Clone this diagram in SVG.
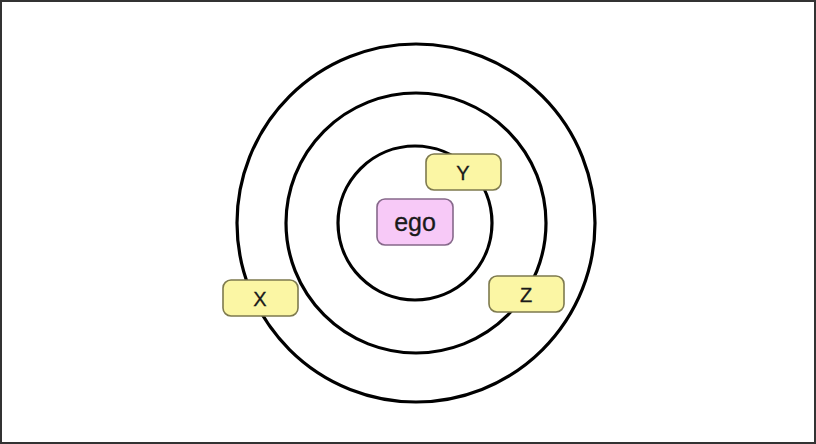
<svg xmlns="http://www.w3.org/2000/svg" width="816" height="444" viewBox="0 0 816 444">
<style>
.ring{fill:none;stroke:#000;stroke-width:3.2}
.yb{fill:#fbf6a4;stroke:#7e7a4e;stroke-width:1.6}
.pb{fill:#f7c9f7;stroke:#86688a;stroke-width:1.6}
.t{font-family:"Liberation Sans",Arial,sans-serif;text-anchor:middle;fill:#1a1a1a;stroke:#1a1a1a;stroke-width:0.3}
</style>
<rect x="1" y="1" width="814" height="442" fill="#fff" stroke="#333" stroke-width="2"/>
<g id="rings">
<circle class="ring" cx="416" cy="223" r="179"/>
<circle class="ring" cx="416" cy="223" r="130"/>
<circle class="ring" cx="415" cy="223" r="77"/>
</g>
<g id="ego">
<rect class="pb" x="377" y="199" width="76" height="46" rx="8"/>
<text class="t" x="415" y="231" font-size="25">ego</text>
</g>
<g id="Y">
<rect class="yb" x="426" y="154" width="75" height="36" rx="8"/>
<text class="t" x="463" y="180" font-size="20">Y</text>
</g>
<g id="X">
<rect class="yb" x="223" y="280" width="75" height="36" rx="8"/>
<text class="t" x="260" y="306" font-size="20">X</text>
</g>
<g id="Z">
<rect class="yb" x="489" y="276" width="75" height="36" rx="8"/>
<text class="t" x="526" y="302" font-size="20">Z</text>
</g>
</svg>
